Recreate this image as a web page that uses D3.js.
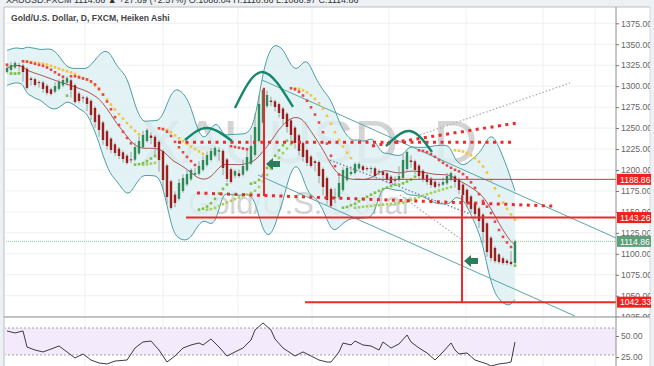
<!DOCTYPE html>
<html><head><meta charset="utf-8">
<script src="https://cdn.jsdelivr.net/npm/d3@7"></script>
<style>
html,body{margin:0;padding:0;background:#eef1f4;overflow:hidden;}
svg{display:block;font-family:"Liberation Sans",Arial,sans-serif;}
</style></head><body>
<svg id="c" width="654" height="366"></svg>
<script>
// ---- data (Heiken Ashi closes, one candle per index) ----
const closes = [1321.7,1325.3,1327.7,1324.1,1316.9,1297.9,1307.4,1301.4,1303.8,1296.7,
 1291.9,1290.7,1300.2,1305.0,1307.4,1309.8,1295.5,1281.1,1282.3,1285.9,
 1278.8,1265.6,1257.3,1247.7,1235.8,1228.6,1223.9,1220.3,1216.7,1213.1,
 1208.4,1211.9,1227.4,1234.6,1241.8,1247.7,1238.2,1227.4,1211.9,1188.1,
 1167.8,1154.7,1160.6,1184.5,1190.5,1195.2,1200.0,1196.4,1204.8,1211.9,
 1217.9,1222.7,1226.3,1223.9,1202.4,1189.3,1185.7,1198.8,1192.8,1204.8,
 1215.5,1228.6,1251.3,1278.8,1295.5,1289.5,1281.1,1275.2,1268.0,1260.9,
 1251.3,1241.8,1232.2,1222.7,1215.5,1208.4,1204.8,1208.4,1192.8,1179.7,
 1164.2,1157.0,1167.8,1184.5,1200.0,1202.4,1197.6,1207.2,1207.2,1200.0,
 1201.2,1202.4,1192.8,1198.8,1194.0,1188.1,1184.5,1188.1,1192.8,1211.9,
 1221.5,1209.5,1200.0,1192.8,1189.3,1185.7,1182.1,1179.7,1182.1,1185.7,
 1192.8,1196.4,1185.7,1176.1,1170.2,1160.6,1153.5,1147.5,1139.1,1126.0,
 1102.1,1095.0,1091.4,1090.2,1089.0,1089.0,1087.8,1114.86];
const firstOpen = 1317.0;
const priceTicks = [1025,1050,1075,1100,1125,1150,1175,1200,1225,1250,1275,1300,1325,1350,1375];
const gridIdx = [19.5,39,57.75,76.25,95.5,114.75,134,147];
// oscillator (lower pane): [candle index, value]
const rsiPoints = [[0,56.0],[2,53.6],[4,56.0],[5,36.9],[7,33.3],[9,31.0],[11,34.5],[13,38.1],[15,31.0],[17,23.8],
 [19,28.6],[21,21.4],[23,17.9],[25,16.7],[27,20.2],[30,21.4],[32,35.7],[34,42.9],[36,44.0],[38,33.3],
 [40,19.0],[42,26.2],[44,35.7],[46,39.3],[48,41.7],[49,39.3],[51,46.4],[53,36.9],[55,26.2],[57,31.0],
 [59,35.7],[61,45.2],[62,57.1],[64,65.5],[66,57.1],[67,46.4],[69,35.7],[72,26.2],[74,31.0],[76,26.2],
 [78,21.4],[80,19.0],[81,19.0],[83,31.0],[84,41.7],[86,39.3],[87,44.0],[89,39.3],[91,38.1],[93,33.3],
 [94,42.9],[96,35.7],[98,40.5],[100,51.2],[101,42.9],[103,35.7],[105,29.8],[107,21.4],[109,31.0],[111,41.7],
 [112,33.3],[113,28.6],[115,29.8],[117,21.4],[120,16.7],[121,14.3],[123,16.7],[125,17.9],[126,19.0],[127,42.9]];
const rsiLevels = [59.5, 27.4];
const rsiTicks = [50, 25];
const labelPrices = [1188.86, 1143.26, 1114.86, 1042.33];
const labelKinds = ["red", "red", "green", "red"];
// drawings: [index, price] in chart coordinates
const solidLevels = [[87, 1188.86, 1], [44.75, 1143.26, 2], [74.5, 1042.33, 2]];
const verticalLines = [[64.25, 1298, 1169], [113.75, 1170, 1042.33]];
const redDotted = [[[42.75, 1233], [126.25, 1233]], [[47.5, 1172.6], [136.5, 1157.0]], [[91.25, 1228.6], [127.5, 1256.1]]];
const grayDotted = [[[103.25, 1241.8], [140.75, 1303.8]], [[98.25, 1170.2], [113.75, 1116.5]]];
const blueDotted = [[[80.75, 1211.9], [115.75, 1147.5]]];
const channel = [[[63.75, 1307.4], [152.25, 1118.9]], [[62.75, 1194.0], [142, 1025.8]]];
const arcs = [[[44.5, 1235.8], [50, 1250.1], [56.25, 1234.6]],
              [[57, 1274.0], [63.75, 1316.9], [71.5, 1275.2]],
              [[94.75, 1228.6], [100.75, 1246.5], [106.25, 1221.5]]];
const arrows = [[66.75, 1207.2], [116.25, 1091.4]];
const lastPrice = 1114.86;

// ---- layout ----
const svg = d3.select("#c");
const L = 4, T = 7, R = 616, RB = 650, MB = 317, B = 366;
const x = d3.scaleLinear().domain([0, 127]).range([7, 515]);
const y = d3.scaleLinear().domain([1200, 1025]).range([170, 316.7]);
const yr = d3.scaleLinear().domain([50, 25]).range([336, 357]);

svg.append("rect").attr("x", L).attr("y", T).attr("width", RB - L).attr("height", B - T).attr("fill", "#fff");
const defs = svg.append("defs");
defs.append("clipPath").attr("id", "mc").append("rect").attr("x", L + 1).attr("y", T + 1).attr("width", R - L - 1).attr("height", MB - T - 1);
defs.append("clipPath").attr("id", "rc").append("rect").attr("x", L + 1).attr("y", MB + 1).attr("width", R - L - 1).attr("height", B - MB);
defs.append("clipPath").attr("id", "ac").append("rect").attr("x", 0).attr("y", T + 1).attr("width", RB - R).attr("height", MB - T - 1);

// header (mostly cut off, as in the screenshot)
svg.append("text").attr("x", 6).attr("y", 3).attr("font-size", 9).attr("fill", "#333")
  .text("XAUUSD:FXCM 1114.86 ▲ +27.89 (+2.57%) O:1088.04 H:1118.86 L:1086.97 C:1114.86");

const main = svg.append("g").attr("clip-path", "url(#mc)");
main.selectAll(".hg").data(priceTicks).join("line")
  .attr("x1", L).attr("x2", R).attr("y1", d => y(d)).attr("y2", d => y(d)).attr("stroke", "#eef0f2");
main.selectAll(".vg").data(gridIdx).join("line")
  .attr("x1", d => x(d)).attr("x2", d => x(d)).attr("y1", T).attr("y2", MB).attr("stroke", "#eef0f2");

// watermark
main.append("text").attr("x", 309).attr("y", 163).attr("text-anchor", "middle").attr("font-size", 62)
  .attr("fill", "#8a8a8a").attr("opacity", 0.36).text("XAUUSD, D");
main.append("text").attr("x", 300).attr("y", 214).attr("text-anchor", "middle").attr("font-size", 31)
  .attr("fill", "#8a8a8a").attr("opacity", 0.36).text("Gold/U.S. Dollar");

// Heiken Ashi OHLC derived from closes
const opens = [], highs = [], lows = [];
closes.forEach((c, i) => {
  const o = i === 0 ? firstOpen : (opens[i - 1] + closes[i - 1]) / 2;
  opens.push(o);
  const pc = i > 0 ? closes[i - 1] : c, nc = i < closes.length - 1 ? closes[i + 1] : c;
  highs.push(Math.max(o, c, (c + pc) / 2, (c + nc) / 2) + 2);
  lows.push(Math.min(o, c, (c + pc) / 2, (c + nc) / 2) - 2);
});

// Bollinger bands
const per = 12, k = 2.6, bb = [];
closes.forEach((c, i) => {
  const w = closes.slice(Math.max(0, i - per + 1), i + 1);
  const m = d3.mean(w), s = Math.max(d3.deviation(w) || 0, 8);
  bb.push({ i, m, u: m + k * s, l: m - k * s });
});
main.append("path").datum(bb).attr("fill", "#dcf0f2").attr("opacity", 0.8)
  .attr("d", d3.area().x(d => x(d.i)).y0(d => y(d.l)).y1(d => y(d.u)).curve(d3.curveBasis));
["u", "l"].forEach(key => main.append("path").datum(bb).attr("fill", "none").attr("stroke", "#4f9ea3").attr("stroke-width", 1)
  .attr("d", d3.line().x(d => x(d.i)).y(d => y(d[key])).curve(d3.curveBasis)));
main.append("path").datum(bb).attr("fill", "none").attr("stroke", "#a04545").attr("stroke-width", 0.9)
  .attr("d", d3.line().x(d => x(d.i)).y(d => y(d.m)).curve(d3.curveBasis));

// drawings behind candles
const P = d => [x(d[0]), y(d[1])];
const seg = (s, stroke, w, dash) => main.append("line")
  .attr("x1", P(s[0])[0]).attr("y1", P(s[0])[1]).attr("x2", P(s[1])[0]).attr("y2", P(s[1])[1])
  .attr("stroke", stroke).attr("stroke-width", w).attr("stroke-dasharray", dash);
channel.forEach(s => seg(s, "#5aa6a3", 1, null));
grayDotted.forEach(s => seg(s, "#b0b0b0", 1.3, "1.5,2"));
blueDotted.forEach(s => seg(s, "#6f7fa8", 1.3, "1.5,2"));
main.append("line").attr("x1", L).attr("x2", R).attr("y1", y(lastPrice)).attr("y2", y(lastPrice))
  .attr("stroke", "#8fc4a4").attr("stroke-dasharray", "1,1");

// candles
const cg = main.append("g");
closes.forEach((c, i) => {
  const o = opens[i], up = c >= o;
  cg.append("line").attr("x1", x(i)).attr("x2", x(i)).attr("y1", y(highs[i])).attr("y2", y(lows[i]))
    .attr("stroke", "#8a8a8a").attr("stroke-width", 0.8);
  cg.append("rect").attr("x", x(i) - 1.2).attr("width", 2.4)
    .attr("y", y(Math.max(o, c))).attr("height", Math.max(1, Math.abs(y(o) - y(c))))
    .attr("fill", up ? "#2f8a57" : "#9b1f1f");
});

// parabolic SAR dots
function psar(step, mx) {
  const out = []; let up = false, af = step, ep = lows[0], sar = highs[0];
  out.push({ i: 0, v: sar, up });
  for (let i = 1; i < closes.length; i++) {
    sar = sar + af * (ep - sar);
    if (up) {
      sar = Math.min(sar, lows[i - 1], lows[Math.max(0, i - 2)]);
      if (lows[i] < sar) { up = false; sar = ep; ep = lows[i]; af = step; }
      else if (highs[i] > ep) { ep = highs[i]; af = Math.min(af + step, mx); }
    } else {
      sar = Math.max(sar, highs[i - 1], highs[Math.max(0, i - 2)]);
      if (highs[i] > sar) { up = true; sar = ep; ep = highs[i]; af = step; }
      else if (lows[i] < ep) { ep = lows[i]; af = Math.min(af + step, mx); }
    }
    out.push({ i, v: sar, up });
  }
  return out;
}
[[0.01, 0.1, "#f5c242", "#a6cf62"], [0.02, 0.2, "#e5474b", "#7fbf4f"]].forEach(([s, m, cu, cd]) => {
  main.append("g").selectAll("rect").data(psar(s, m)).join("rect")
    .attr("x", d => x(d.i) - 1.3).attr("y", d => y(d.v) - 1.3).attr("width", 2.6).attr("height", 2.6)
    .attr("fill", d => d.up ? cd : cu);
});

// red levels and lines
solidLevels.forEach(([i0, p, w]) => main.append("line").attr("x1", x(i0)).attr("x2", R).attr("y1", y(p)).attr("y2", y(p))
  .attr("stroke", "#ec2a2a").attr("stroke-width", w));
verticalLines.forEach(([i0, p0, p1]) => main.append("line").attr("x1", x(i0)).attr("x2", x(i0)).attr("y1", y(p0)).attr("y2", y(p1))
  .attr("stroke", "#ec2a2a").attr("stroke-width", 2));
redDotted.forEach(s => seg(s, "#e82c2c", 3, "3,4.5"));

// arcs
const arcLine = d3.line().x(d => x(d[0])).y(d => y(d[1])).curve(d3.curveNatural);
arcs.forEach(a => main.append("path").attr("d", arcLine(a)).attr("fill", "none").attr("stroke", "#15876a").attr("stroke-width", 2.4));

// arrows
arrows.forEach(([i0, p]) => main.append("path")
  .attr("transform", `translate(${x(i0)},${y(p)})`)
  .attr("d", "M-8,0 L-1,-6 L-1,-3 L6,-3 L6,3 L-1,3 L-1,6 Z").attr("fill", "#2c7d5c"));

// title
svg.append("text").attr("x", 11).attr("y", 21).attr("font-size", 8.6).attr("fill", "#444").attr("font-weight", 600)
  .text("Gold/U.S. Dollar, D, FXCM, Heiken Ashi");

// ---- lower pane ----
const low = svg.append("g").attr("clip-path", "url(#rc)");
low.append("rect").attr("x", L).attr("width", R - L).attr("y", yr(rsiLevels[0])).attr("height", yr(rsiLevels[1]) - yr(rsiLevels[0]))
  .attr("fill", "#f3eafb");
low.selectAll(".vg").data(gridIdx).join("line")
  .attr("x1", d => x(d)).attr("x2", d => x(d)).attr("y1", MB).attr("y2", B).attr("stroke", "#eef0f2");
rsiLevels.forEach(v => low.append("line").attr("x1", L).attr("x2", R).attr("y1", yr(v)).attr("y2", yr(v))
  .attr("stroke", "#a3a3a3").attr("stroke-dasharray", "2,2"));
low.append("path").datum(rsiPoints).attr("fill", "none").attr("stroke", "#3c3c3c").attr("stroke-width", 1)
  .attr("d", d3.line().x(d => x(d[0])).y(d => yr(d[1])));

// frame
svg.append("line").attr("x1", L).attr("x2", RB).attr("y1", T).attr("y2", T).attr("stroke", "#b9bec4");
svg.append("line").attr("x1", L).attr("x2", L).attr("y1", T).attr("y2", B).attr("stroke", "#b9bec4");
svg.append("line").attr("x1", RB).attr("x2", RB).attr("y1", T).attr("y2", B).attr("stroke", "#d3d7db");
svg.append("line").attr("x1", R).attr("x2", R).attr("y1", T).attr("y2", B).attr("stroke", "#8c8c8c");
svg.append("line").attr("x1", L).attr("x2", RB).attr("y1", MB).attr("y2", MB).attr("stroke", "#8c8c8c");

// price axis
const ax = svg.append("g").attr("transform", `translate(${R},0)`);
ax.attr("clip-path", "url(#ac)")
  .call(d3.axisRight(y).tickValues(priceTicks).tickFormat(d3.format(".2f")).tickSize(3).tickPadding(2));
ax.select(".domain").remove();
ax.selectAll("line").attr("stroke", "#777");
ax.selectAll("text").attr("font-size", 8.6).attr("fill", "#666").attr("font-family", "Liberation Sans, Arial");
const rax = svg.append("g").attr("transform", `translate(${R},0)`)
  .call(d3.axisRight(yr).tickValues(rsiTicks).tickFormat(d3.format(".2f")).tickSize(3).tickPadding(2));
rax.select(".domain").remove();
rax.selectAll("line").attr("stroke", "#777");
rax.selectAll("text").attr("font-size", 8.6).attr("fill", "#666").attr("font-family", "Liberation Sans, Arial");

// price labels
labelPrices.forEach((p, j) => {
  const g = svg.append("g").attr("transform", `translate(${R + 1},${y(p)})`);
  g.append("rect").attr("x", 0).attr("y", -5.5).attr("width", 34).attr("height", 11)
    .attr("fill", labelKinds[j] === "red" ? "#f0201d" : "#5f9e78");
  g.append("text").attr("x", 3).attr("y", 3.2).attr("font-size", 8.6).attr("fill", "#fff").text(d3.format(".2f")(p));
});
</script>
</body></html>
